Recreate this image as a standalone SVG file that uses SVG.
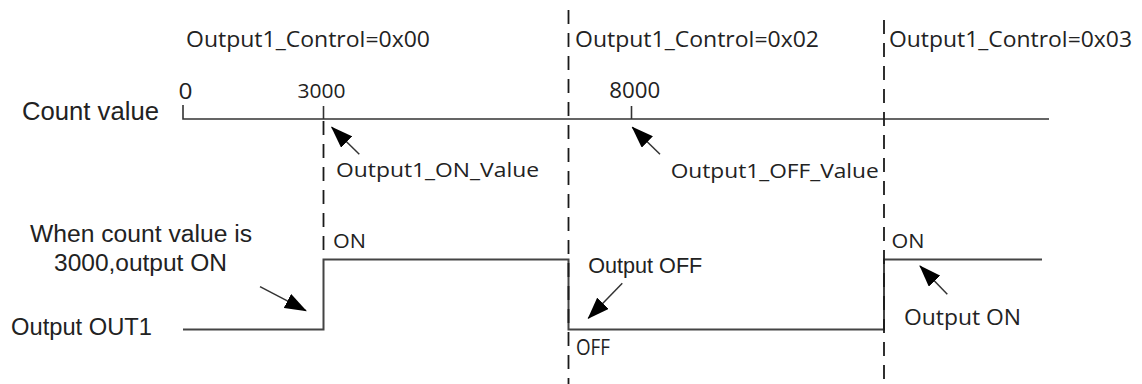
<svg xmlns="http://www.w3.org/2000/svg" width="1142" height="384" viewBox="0 0 1142 384">
  <style>
    .ya { font-family: "Open Sans", "Noto Sans", "DejaVu Sans", sans-serif; fill: #222; }
    .ar { font-family: "Liberation Sans", Arial, sans-serif; fill: #222; }
    .ln { stroke: #333; stroke-width: 1.6; fill: none; }
    .sig { stroke: #444; stroke-width: 2; fill: none; }
    .dash { stroke: #1a1a1a; stroke-width: 1.8; fill: none; stroke-dasharray: 14 9; }
    .arr { stroke: #333; stroke-width: 1.5; fill: none; marker-end: url(#head); }
  </style>
  <defs>
    <marker id="head" viewBox="0 0 22 16" refX="21" refY="8" markerWidth="22" markerHeight="16" markerUnits="userSpaceOnUse" orient="auto">
      <path d="M0,0 L22,8 L0,16 z" fill="#000"/>
    </marker>
  </defs>
  <rect width="1142" height="384" fill="#fff"/>

  <g id="axis">
    <path class="ln" d="M183,105 V119 H1049"/>
    <path class="ln" d="M323.5,106 V119"/>
    <path class="ln" d="M631.5,106 V119"/>
    <text class="ar" x="22" y="120" font-size="25" textLength="137" lengthAdjust="spacingAndGlyphs">Count value</text>
    <text class="ya" x="178.5" y="98.5" font-size="22" textLength="14" lengthAdjust="spacingAndGlyphs">0</text>
    <text class="ya" x="297.5" y="98.3" font-size="20" textLength="48" lengthAdjust="spacingAndGlyphs">3000</text>
    <text class="ya" x="609.3" y="98.3" font-size="21" textLength="51" lengthAdjust="spacingAndGlyphs">8000</text>
  </g>

  <g id="control-labels">
    <text class="ya" x="186" y="46.7" font-size="21.5" textLength="244" lengthAdjust="spacingAndGlyphs">Output1_Control=0x00</text>
    <text class="ya" x="575" y="46.7" font-size="21.5" textLength="244" lengthAdjust="spacingAndGlyphs">Output1_Control=0x02</text>
    <text class="ya" x="889" y="46.7" font-size="21.5" textLength="243" lengthAdjust="spacingAndGlyphs">Output1_Control=0x03</text>
  </g>

  <g id="signal">
    <path class="sig" d="M183,329.5 H323.5 V259.5 H568.5 V329.5 H884 V259.5 H1042"/>
    <text class="ar" x="11" y="335" font-size="23.5" textLength="141" lengthAdjust="spacingAndGlyphs">Output OUT1</text>
    <text class="ya" x="333" y="248.3" font-size="20.5" textLength="33" lengthAdjust="spacingAndGlyphs">ON</text>
    <text class="ya" x="576" y="355" font-size="21.5" textLength="34" lengthAdjust="spacingAndGlyphs">OFF</text>
    <text class="ya" x="891.5" y="248.3" font-size="20.5" textLength="33" lengthAdjust="spacingAndGlyphs">ON</text>
  </g>

  <g id="dividers">
    <path class="dash" d="M323.5,121 V259"/>
    <path class="dash" d="M568.5,10 V384"/>
    <path class="dash" d="M884,20 V384"/>
  </g>

  <g id="annotations">
    <text class="ya" x="336" y="177.3" font-size="20.5" textLength="203" lengthAdjust="spacingAndGlyphs">Output1_ON_Value</text>
    <text class="ya" x="670.7" y="178.3" font-size="20.5" textLength="208" lengthAdjust="spacingAndGlyphs">Output1_OFF_Value</text>
    <text class="ar" x="30" y="241.5" font-size="23.5" textLength="222" lengthAdjust="spacingAndGlyphs">When count value is</text>
    <text class="ar" x="54" y="271" font-size="23.5" textLength="173" lengthAdjust="spacingAndGlyphs">3000,output ON</text>
    <text class="ar" x="588.3" y="272.5" font-size="22" textLength="114" lengthAdjust="spacingAndGlyphs">Output OFF</text>
    <text class="ya" x="904" y="325" font-size="22" textLength="117" lengthAdjust="spacingAndGlyphs">Output ON</text>
  </g>

  <g id="connectors">
    <line class="arr" x1="359.3" y1="154.3" x2="331.7" y2="127.3"/>
    <line class="arr" x1="660" y1="154.3" x2="632.3" y2="127.3"/>
    <line class="arr" x1="260" y1="286.7" x2="306" y2="310.7"/>
    <line class="arr" x1="622.3" y1="283.3" x2="588.3" y2="318.3"/>
    <line class="arr" x1="947.3" y1="294.3" x2="920" y2="266"/>
  </g>
</svg>
